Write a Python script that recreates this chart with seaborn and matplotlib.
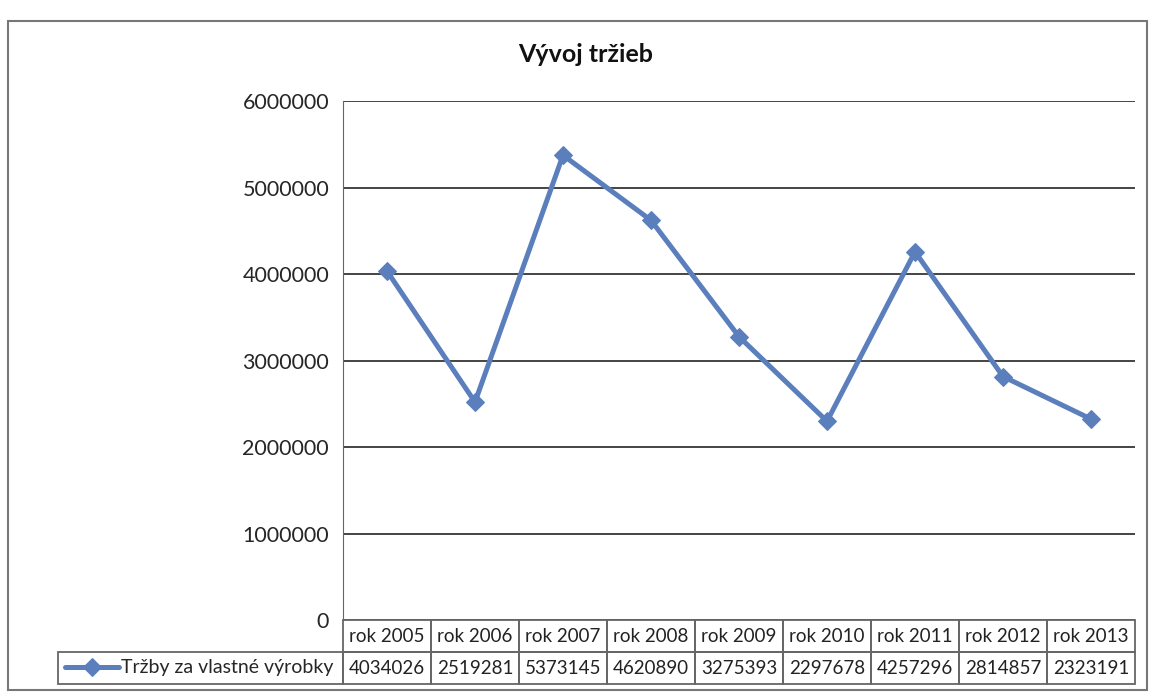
import matplotlib
matplotlib.use("Agg")
import matplotlib.pyplot as plt
import matplotlib.transforms as mtransforms
import seaborn as sns
import pandas as pd
from matplotlib.patches import Rectangle

# data
roky = ['rok 2005', 'rok 2006', 'rok 2007', 'rok 2008', 'rok 2009',
        'rok 2010', 'rok 2011', 'rok 2012', 'rok 2013']
trzby = [4034026, 2519281, 5373145, 4620890, 3275393,
         2297678, 4257296, 2814857, 2323191]
seria = 'Tržby za vlastné výrobky'

df = pd.DataFrame({'rok': range(len(roky)), 'trzby': trzby})

sns.set_style('white')
plt.rcParams['font.family'] = ['Lato', 'DejaVu Sans']

W, H = 1151, 693
fig = plt.figure(figsize=(W / 100, H / 100), dpi=100)
left, right, top, bottom = 343, 1135, 101, 620
plot_h = bottom - top
ax = fig.add_axes([left / W, 1 - bottom / H, (right - left) / W, plot_h / H])

farba = '#5a7fbc'
sns.lineplot(data=df, x='rok', y='trzby', ax=ax, color=farba, linewidth=3.6,
             marker='D', markersize=9.5, markeredgecolor=farba, label=seria)

ax.set_xlim(-0.5, len(roky) - 0.5)
ax.set_ylim(0, 6000000)
ax.set_yticks(range(0, 6000001, 1000000))
ax.set_yticklabels([str(v) for v in range(0, 6000001, 1000000)], fontsize=15.5)
ax.tick_params(axis='y', length=0, pad=10)
ax.set_xticks([])
ax.set_xlabel('')
ax.set_ylabel('')
ax.grid(axis='y', color='#444444', linewidth=1.4)
ax.set_axisbelow(True)
for s in ['top', 'right', 'bottom']:
    ax.spines[s].set_visible(False)
ax.spines['left'].set_color('#666666')

# data table below the plot (x in data units, y in axes fraction)
trans = mtransforms.blended_transform_factory(ax.transData, ax.transAxes)
row_h = 32 / plot_h
col_px = (right - left) / len(roky)
edge = '#666666'
for i, (rok, v) in enumerate(zip(roky, trzby)):
    for k, txt in enumerate([rok, str(v)]):
        y0 = -(k + 1) * row_h
        ax.add_patch(Rectangle((i - 0.5, y0), 1, row_h, transform=trans,
                               fill=False, edgecolor=edge, linewidth=1.3,
                               clip_on=False))
        ax.text(i, y0 + row_h / 2, txt, transform=trans, ha='center',
                va='center', fontsize=13.5, color='#222222', clip_on=False)

# row label cell with legend key
lab_x0 = -0.5 - (left - 58) / col_px
ax.add_patch(Rectangle((lab_x0, -2 * row_h), -0.5 - lab_x0, row_h,
                       transform=trans, fill=False, edgecolor=edge,
                       linewidth=1.3, clip_on=False))
ax.legend(loc='center left',
          bbox_to_anchor=((65 - left) / (right - left), -1.5 * row_h),
          frameon=False, fontsize=14, handlelength=2.8, handletextpad=0.1,
          borderaxespad=0, borderpad=0)

fig.text(586 / W, 1 - 55 / H, 'Vývoj tržieb', ha='center', va='center',
         fontsize=18, fontweight='bold', color='#111111')

# chart border
fig.patches.append(Rectangle((8 / W, 3 / H), (W - 12) / W, (H - 24) / H,
                             transform=fig.transFigure, fill=False,
                             edgecolor='#777777', linewidth=1.5))

fig.savefig('out.png', dpi=100)
